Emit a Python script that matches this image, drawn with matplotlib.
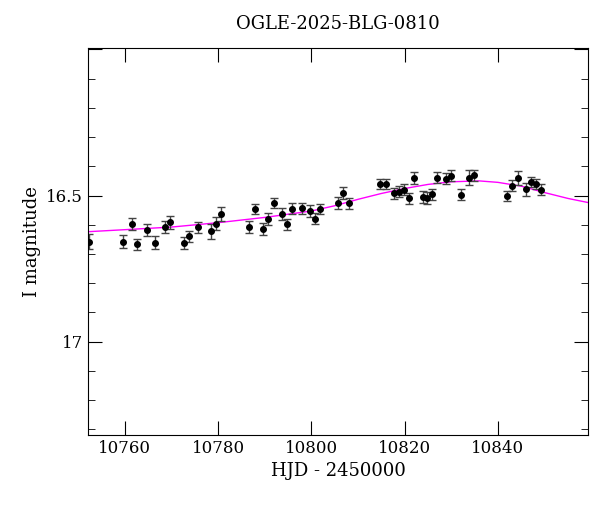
import matplotlib
matplotlib.use("Agg")
import matplotlib.pyplot as plt
from matplotlib.ticker import MultipleLocator

hjd = [10752.4, 10759.5, 10761.5, 10762.6, 10764.7, 10766.5, 10768.5, 10769.7, 10772.6, 10773.7,
       10775.7, 10778.5, 10779.6, 10780.6, 10786.7, 10787.8, 10789.7, 10790.7, 10791.9, 10793.6,
       10794.7, 10795.8, 10798.0, 10799.7, 10800.7, 10801.8, 10805.7, 10806.8, 10808.0, 10814.8,
       10816.0, 10817.8, 10818.8, 10819.8, 10821.0, 10822.1, 10823.9, 10824.8, 10825.8, 10826.9,
       10828.8, 10829.9, 10832.1, 10833.8, 10834.9, 10842.0, 10843.1, 10844.2, 10846.1, 10847.1,
       10848.1, 10849.2]
mag = [16.658, 16.658, 16.597, 16.667, 16.617, 16.662, 16.607, 16.591, 16.662, 16.640,
       16.609, 16.623, 16.597, 16.562, 16.608, 16.547, 16.615, 16.580, 16.525, 16.564,
       16.599, 16.545, 16.544, 16.554, 16.579, 16.547, 16.525, 16.491, 16.527, 16.461,
       16.460, 16.493, 16.487, 16.480, 16.510, 16.439, 16.506, 16.508, 16.496, 16.439,
       16.442, 16.432, 16.497, 16.439, 16.431, 16.501, 16.466, 16.439, 16.478, 16.453,
       16.461, 16.480]
err = [0.025, 0.022, 0.020, 0.018, 0.020, 0.022, 0.020, 0.022, 0.020, 0.020,
       0.020, 0.025, 0.022, 0.024, 0.020, 0.017, 0.020, 0.020, 0.018, 0.020,
       0.020, 0.018, 0.018, 0.020, 0.020, 0.018, 0.020, 0.020, 0.020, 0.018,
       0.018, 0.020, 0.018, 0.018, 0.018, 0.020, 0.020, 0.020, 0.020, 0.018,
       0.018, 0.018, 0.018, 0.025, 0.020, 0.018, 0.020, 0.024, 0.022, 0.018,
       0.018, 0.018]

model_x = [10752, 10760, 10770, 10780, 10790, 10800, 10805, 10810, 10815, 10820,
           10825, 10830, 10836, 10840, 10845, 10850, 10855, 10859.3]
model_y = [16.624, 16.617, 16.608, 16.593, 16.575, 16.553, 16.535, 16.513, 16.493, 16.476,
           16.462, 16.453, 16.450, 16.455, 16.468, 16.490, 16.510, 16.524]

plt.rcParams["font.family"] = "DejaVu Serif"
fig = plt.figure(figsize=(6, 5.12), dpi=100)
ax = fig.add_axes([0.1467, 0.1504, 0.8333, 0.7558])
ax.plot(model_x, model_y, color="#ff00ff", lw=1.0, zorder=1)
ax.errorbar(hjd, mag, yerr=err, fmt="o", ms=4, color="black", ecolor="#444444",
            elinewidth=1, capsize=3, capthick=1, zorder=2)
ax.set_xlim(10752.1, 10859.3)
ax.set_ylim(17.32, 15.995)
ax.xaxis.set_major_locator(MultipleLocator(20))
ax.yaxis.set_major_locator(MultipleLocator(0.5))
ax.yaxis.set_minor_locator(MultipleLocator(0.1))
ax.yaxis.set_major_formatter(matplotlib.ticker.FuncFormatter(lambda v, p: f"{v:g}" if v > 16.2 else ""))
ax.tick_params(which="both", direction="in", top=True, right=True, labelsize=12)
ax.tick_params(which="major", length=10)
ax.tick_params(which="minor", length=5)
ax.set_xlabel("HJD - 2450000", fontsize=13)
ax.set_ylabel("I magnitude", fontsize=13)
ax.set_title("OGLE-2025-BLG-0810", fontsize=13, pad=14)
fig.savefig("out.png", dpi=100)
